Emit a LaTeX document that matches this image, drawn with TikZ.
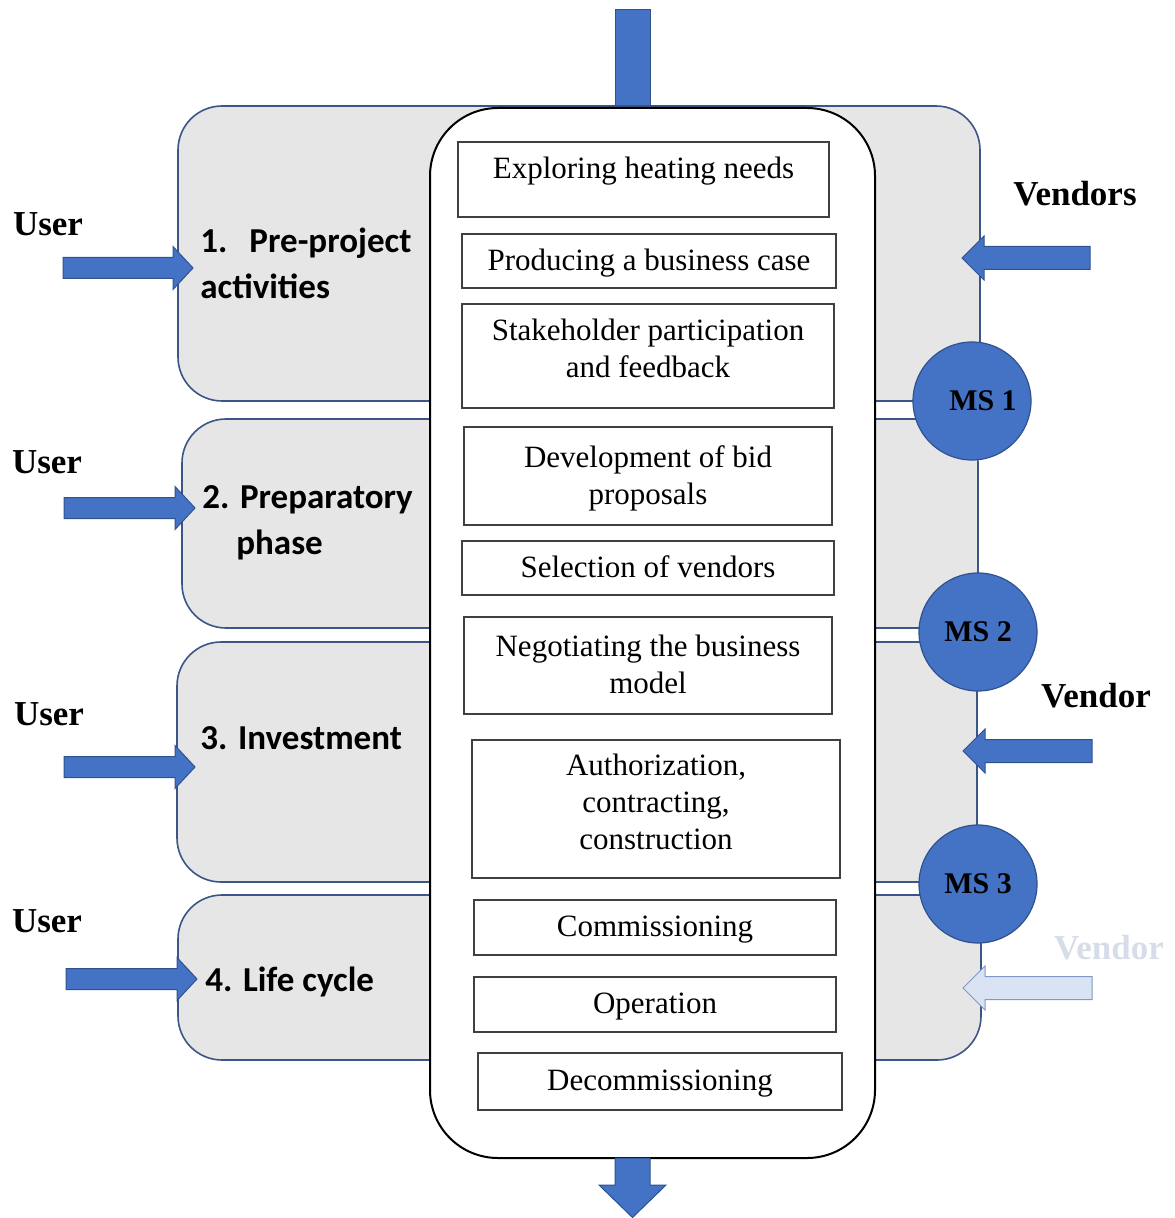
\documentclass[tikz,border=0pt]{standalone}
\usepackage{fontspec}
\setmainfont{Liberation Serif}
\newfontfamily\phasefont{Carlito}

\definecolor{flowblue}{HTML}{4472C4}
\definecolor{flowedge}{HTML}{2F528F}
\definecolor{phasefill}{HTML}{E6E6E6}
\definecolor{phaseedge}{HTML}{3B5586}
\definecolor{paleblue}{HTML}{DAE3F3}
\definecolor{paleedge}{HTML}{7F99C4}
\definecolor{paletext}{HTML}{D6DDE8}

% block arrow pointing right: [style]{tail x}{tip x}{centre y}
\newcommand\blockright[4][]{%
  \draw[blockarrow,#1] (#2,{#4-10.5}) -- ({#3-20},{#4-10.5}) -- ({#3-20},{#4-21.5})
    -- (#3,#4) -- ({#3-20},{#4+21.5}) -- ({#3-20},{#4+10.5}) -- (#2,{#4+10.5}) -- cycle;}
% block arrow pointing left: [style]{tail x}{tip x}{centre y}
\newcommand\blockleft[4][]{%
  \draw[blockarrow,#1] (#2,{#4-11.5}) -- ({#3+22},{#4-11.5}) -- ({#3+22},{#4-22})
    -- (#3,#4) -- ({#3+22},{#4+22}) -- ({#3+22},{#4+11.5}) -- (#2,{#4+11.5}) -- cycle;}

\begin{document}
\begin{tikzpicture}[x=0.5pt,y=-0.5pt,
  phase/.style={rectangle, draw=phaseedge, line width=0.8pt, fill=phasefill,
    rounded corners=22pt, inner sep=0pt},
  holder/.style={rectangle, draw=black, line width=1pt, fill=white,
    rounded corners=34pt, inner sep=0pt},
  ibox/.style={rectangle, draw=black!75, line width=0.8pt, fill=white,
    inner sep=0pt, align=center, font=\fontsize{15.5}{18.5}\selectfont},
  phasetext/.style={font=\phasefont\bfseries\fontsize{17.5}{23}\selectfont,
    align=left, anchor=west, inner sep=0pt},
  actor/.style={font=\bfseries\fontsize{17.5}{21}\selectfont, inner sep=0pt},
  milestone/.style={circle, fill=flowblue, draw=flowedge, line width=0.6pt,
    minimum size=59pt, inner sep=0pt, font=\bfseries\fontsize{15}{18}\selectfont},
  blockarrow/.style={fill=flowblue, draw=flowedge, line width=0.5pt, line join=miter}
]
\useasboundingbox (0,0) rectangle (1174,1218);

% feed entering from the top
\node[rectangle, fill=flowblue, draw=flowedge, line width=0.5pt, inner sep=0pt,
  minimum width=17.5pt, minimum height=48.5pt] (feed) at (632.5,58.5) {};

% phase bands
\node[phase, minimum width=401pt, minimum height=147.5pt] (p1) at (579,253.5) {};
\node[phase, minimum width=398pt, minimum height=104.5pt] (p2) at (580,523.5) {};
\node[phase, minimum width=400pt, minimum height=120pt] (p3) at (577,762) {};
\node[phase, minimum width=401.5pt, minimum height=82.5pt] (p4) at (579.5,977.5) {};

% central holder of the activity steps
\node[holder, minimum width=222.5pt, minimum height=525pt] (holder) at (652.5,633) {};

% activity steps
\node[ibox, minimum width=185.5pt, minimum height=37.5pt, text depth=12pt] (b1) at (643.5,179.5) {Exploring heating needs};
\node[ibox, minimum width=187pt, minimum height=27pt, text depth=1pt] (b2) at (649,261) {Producing a business case};
\node[ibox, minimum width=186pt, minimum height=52pt, text depth=8pt] (b3) at (648,356) {Stakeholder participation\\and feedback};
\node[ibox, minimum width=184pt, minimum height=49pt, text depth=1pt] (b4) at (648,476) {Development of bid\\proposals};
\node[ibox, minimum width=186pt, minimum height=27pt, text depth=1pt] (b5) at (648,568) {Selection of vendors};
\node[ibox, minimum width=184pt, minimum height=48.5pt, text depth=1pt] (b6) at (648,665.5) {Negotiating the business\\model};
\node[ibox, minimum width=184pt, minimum height=69pt, text depth=7pt] (b7) at (656,809) {Authorization,\\contracting,\\construction};
\node[ibox, minimum width=181pt, minimum height=27.5pt, text depth=1pt] (b8) at (655,927.5) {Commissioning};
\node[ibox, minimum width=181pt, minimum height=27.5pt, text depth=1pt] (b9) at (655,1004.5) {Operation};
\node[ibox, minimum width=182pt, minimum height=28.5pt, text depth=1pt] (b10) at (660,1081.5) {Decommissioning};

% outflow at the bottom
\draw[blockarrow] (615,1158) -- (615,1185) -- (599,1185) -- (632.5,1217.5)
  -- (666,1185) -- (650,1185) -- (650,1158) -- cycle;

% milestones
\node[milestone] (ms1) at (972,401) {\hspace*{11pt}MS 1};
\node[milestone] (ms2) at (978,632) {MS 2};
\node[milestone] (ms3) at (978,884) {MS 3};

% phase titles
\node[phasetext] (t1) at (200,263) {1.\hspace{11pt}Pre-project\\activities};
\node[phasetext] (t2) at (202,523) {2. Preparatory\\\hspace*{17pt}phase};
\node[phasetext] (t3) at (200,738) {3. Investment};
\node[phasetext] (t4) at (205,982) {4. Life cycle};

% user inputs
\node[actor] (u1) at (48,224) {User};
\node[actor] (u2) at (47,462) {User};
\node[actor] (u3) at (49,714) {User};
\node[actor] (u4) at (47,921) {User};
\blockright{63}{193}{268}
\blockright{64}{195}{508}
\blockright{64}{195}{767}
\blockright{66}{197}{979}

% vendor inputs
\node[actor] (v1) at (1075,194) {Vendors};
\node[actor] (v2) at (1096,696) {Vendor};
\node[actor, text=paletext] (v3) at (1109,948) {Vendor};
\blockleft{1090}{962}{258}
\blockleft{1092}{963}{751}
\blockleft[fill=paleblue, draw=paleedge]{1092}{963}{988}
\end{tikzpicture}
\end{document}
